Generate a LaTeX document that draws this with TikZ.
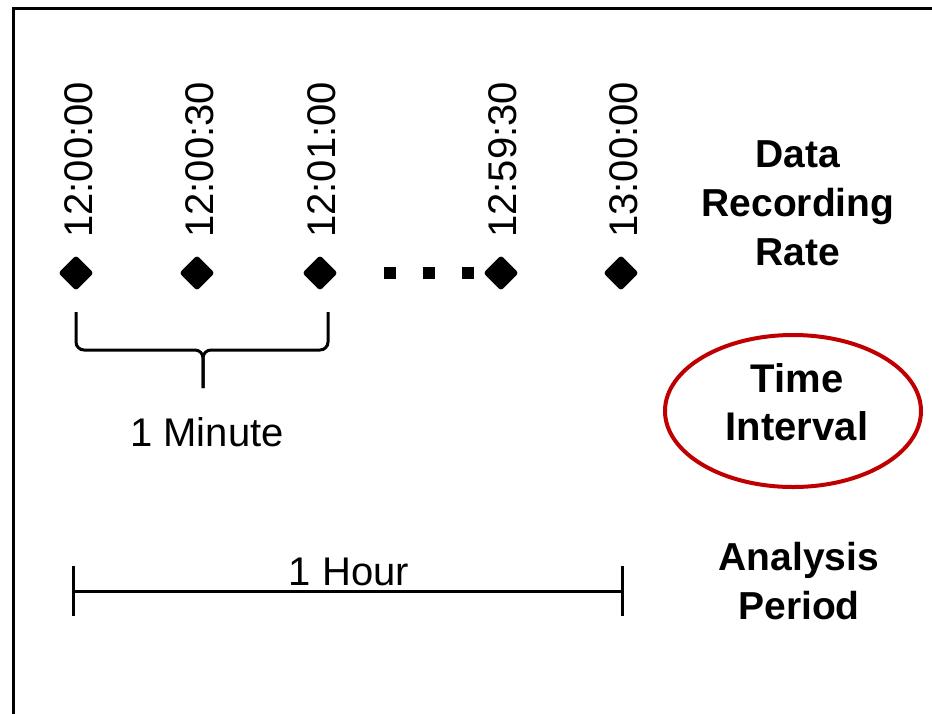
\documentclass[tikz,border=0pt]{standalone}
\usepackage{fontspec}
\setmainfont{Liberation Sans}
\usetikzlibrary{shapes.geometric}
\definecolor{ringred}{RGB}{192,0,0}
\begin{document}
\begin{tikzpicture}[x=1pt,y=-1pt,
  stamp/.style={rotate=90,anchor=west,inner sep=0pt,font=\fontsize{40}{48}\selectfont},
  dmd/.style={rectangle,rotate=45,fill=black,minimum size=25pt,inner sep=0pt,rounded corners=3pt},
  dotsq/.style={rectangle,fill=black,minimum size=12pt,inner sep=0pt},
  plain/.style={inner sep=0pt,font=\fontsize{40}{48}\selectfont},
  heading/.style={inner sep=0pt,align=center,font=\fontsize{39}{49}\selectfont\bfseries},
  ring/.style={ellipse,draw=ringred,line width=4pt,minimum width=256pt,minimum height=152pt,inner sep=0pt},
  rule/.style={line width=3pt}]
\useasboundingbox (0,0) rectangle (932,713);
\begin{scope}
\clip (0,0) rectangle (932,713);
\draw[line width=3pt] (13,8) rectangle (960,740);
\end{scope}
% time stamps
\node[stamp] (t1) at (79,238) {12:00:00};
\node[stamp] (t2) at (200,238) {12:00:30};
\node[stamp] (t3) at (322,238) {12:01:00};
\node[stamp] (t4) at (503,238) {12:59:30};
\node[stamp] (t5) at (624,238) {13:00:00};
% diamonds
\node[dmd] (d1) at (76,273) {};
\node[dmd] (d2) at (197,273) {};
\node[dmd] (d3) at (320,273) {};
\node[dmd] (d4) at (501,273) {};
\node[dmd] (d5) at (621,273) {};
\node[dotsq] (s1) at (390,273) {};
\node[dotsq] (s2) at (429,273) {};
\node[dotsq] (s3) at (468,273) {};
% brace
\coordinate (bl) at (76,312);
\coordinate (br) at (328,312);
\coordinate (bm) at (203,350);
\coordinate (bt) at (203,388);
\draw[rule,rounded corners=8pt] (bl) |- (bm) -- (bt);
\draw[rule,rounded corners=8pt] (br) |- (bm) -- (bt);
\node[plain] (minute) at (207,432) {1 Minute};
% hour bar
\coordinate (hl) at (73,591);
\coordinate (hr) at (622,591);
\draw[rule] (hl) -- (hr);
\draw[rule] ([yshift=-25pt]hl) -- ([yshift=25pt]hl);
\draw[rule] ([yshift=-25pt]hr) -- ([yshift=25pt]hr);
\node[plain] (hour) at (349,572) {1 Hour};
% right column
\node[heading] (rate) at (798,203) {Data\\Recording\\Rate};
\node[ring] (ring) at (793,411) {};
\node[heading,font=\fontsize{40}{48}\selectfont\bfseries] (interval) at (797,402) {Time\\Interval};
\node[heading] (period) at (799,581) {Analysis\\Period};
\end{tikzpicture}
\end{document}
